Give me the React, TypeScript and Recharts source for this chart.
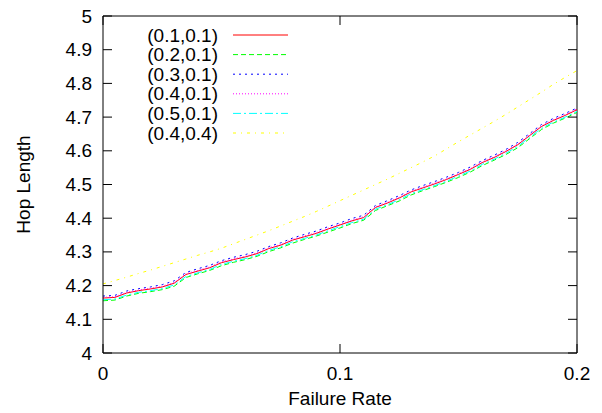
import { LineChart, Line, XAxis, YAxis, ReferenceLine, Legend } from 'recharts'

// failure rate (x axis)
const rates = [
  0, 0.005, 0.01, 0.015, 0.02, 0.025, 0.03, 0.035, 0.04, 0.045,
  0.05, 0.055, 0.06, 0.065, 0.07, 0.075, 0.08, 0.085, 0.09, 0.095,
  0.1, 0.105, 0.11, 0.115, 0.12, 0.125, 0.13, 0.135, 0.14, 0.145,
  0.15, 0.155, 0.16, 0.165, 0.17, 0.175, 0.18, 0.185, 0.19, 0.195, 0.2,
]

// hop length per parameter pair
const s01_01 = [
  4.163, 4.165, 4.178, 4.185, 4.190, 4.196, 4.207, 4.233, 4.243, 4.253,
  4.268, 4.277, 4.285, 4.295, 4.310, 4.320, 4.335, 4.345, 4.355, 4.368,
  4.380, 4.392, 4.402, 4.432, 4.445, 4.460, 4.478, 4.490, 4.502, 4.515,
  4.530, 4.545, 4.565, 4.580, 4.598, 4.618, 4.645, 4.672, 4.690, 4.705, 4.722,
]
const s02_01 = [
  4.155, 4.157, 4.169, 4.177, 4.182, 4.188, 4.198, 4.224, 4.235, 4.245,
  4.259, 4.269, 4.277, 4.287, 4.301, 4.312, 4.326, 4.337, 4.347, 4.359,
  4.371, 4.384, 4.394, 4.423, 4.437, 4.451, 4.469, 4.482, 4.494, 4.507,
  4.521, 4.537, 4.556, 4.572, 4.589, 4.609, 4.636, 4.663, 4.682, 4.697, 4.714,
]
const s03_01 = [
  4.169, 4.171, 4.184, 4.191, 4.196, 4.203, 4.214, 4.239, 4.250, 4.260,
  4.274, 4.284, 4.292, 4.302, 4.316, 4.327, 4.341, 4.352, 4.362, 4.375,
  4.386, 4.399, 4.409, 4.438, 4.452, 4.467, 4.484, 4.497, 4.509, 4.522,
  4.536, 4.552, 4.571, 4.587, 4.604, 4.625, 4.651, 4.678, 4.696, 4.711, 4.727,
]
const s04_01 = [
  4.165, 4.167, 4.180, 4.187, 4.192, 4.198, 4.209, 4.235, 4.245, 4.255,
  4.270, 4.279, 4.287, 4.297, 4.312, 4.322, 4.337, 4.347, 4.357, 4.370,
  4.382, 4.394, 4.404, 4.434, 4.447, 4.462, 4.480, 4.492, 4.504, 4.517,
  4.532, 4.547, 4.567, 4.582, 4.600, 4.620, 4.647, 4.674, 4.692, 4.707, 4.724,
]
const s05_01 = [
  4.158, 4.160, 4.172, 4.180, 4.185, 4.191, 4.202, 4.227, 4.238, 4.248,
  4.263, 4.272, 4.280, 4.290, 4.305, 4.315, 4.330, 4.340, 4.350, 4.363,
  4.375, 4.387, 4.397, 4.427, 4.440, 4.455, 4.473, 4.485, 4.497, 4.510,
  4.525, 4.540, 4.560, 4.575, 4.593, 4.613, 4.640, 4.667, 4.685, 4.700, 4.717,
]
const s04_04 = [
  4.205, 4.215, 4.225, 4.236, 4.246, 4.257, 4.268, 4.279, 4.290, 4.300,
  4.311, 4.324, 4.337, 4.350, 4.363, 4.377, 4.391, 4.405, 4.420, 4.436,
  4.452, 4.468, 4.484, 4.500, 4.516, 4.533, 4.550, 4.567, 4.585, 4.606,
  4.627, 4.647, 4.667, 4.687, 4.708, 4.730, 4.752, 4.774, 4.797, 4.818, 4.838,
]

const xTicks = [0, 0.1, 0.2]
const yTicks = [4, 4.1, 4.2, 4.3, 4.4, 4.5, 4.6, 4.7, 4.8, 4.9, 5]

const series = [
  { key: 'a', name: '(0.1,0.1)', values: s01_01, color: '#ff0000', dash: undefined },
  { key: 'b', name: '(0.2,0.1)', values: s02_01, color: '#00ff00', dash: '5 3' },
  { key: 'c', name: '(0.3,0.1)', values: s03_01, color: '#0000ff', dash: '2 4' },
  { key: 'd', name: '(0.4,0.1)', values: s04_01, color: '#ff00ff', dash: '1 2' },
  { key: 'e', name: '(0.5,0.1)', values: s05_01, color: '#00ffff', dash: '8 3 2 3' },
  { key: 'f', name: '(0.4,0.4)', values: s04_04, color: '#ffff00', dash: '3 5 1 5' },
]

const data = rates.map((rate, i) => {
  const row: any = { rate }
  series.forEach((s) => { row[s.key] = s.values[i] })
  return row
})

const W = 602
const H = 413
const PLOT_W = 474
const PLOT_H = 337
const TICK = 9
const FS = 19
const FONT = '"Liberation Sans", Arial, sans-serif'

const YTick = ({ x, y, payload }: any) => {
  const ax = x + 11
  return (
    <g>
      <line x1={ax} x2={ax + TICK} y1={y} y2={y} stroke="#000" />
      <line x1={ax + PLOT_W} x2={ax + PLOT_W - TICK} y1={y} y2={y} stroke="#000" />
      <text x={x} y={y} textAnchor="end" dominantBaseline="central" fontSize={FS} fontFamily={FONT} fill="#000">
        {String(payload.value)}
      </text>
    </g>
  )
}

const XTick = ({ x, y, payload }: any) => {
  const ay = y - 20
  return (
    <g>
      <line x1={x} x2={x} y1={ay} y2={ay - TICK} stroke="#000" />
      <line x1={x} x2={x} y1={ay - PLOT_H} y2={ay - PLOT_H + TICK} stroke="#000" />
      <text x={x} y={y} textAnchor="middle" dominantBaseline="central" fontSize={FS} fontFamily={FONT} fill="#000">
        {String(payload.value)}
      </text>
    </g>
  )
}

const LegendBox = () => (
  <svg width={300} height={145} style={{ display: 'block' }}>
    {series.map((s, i) => {
      const y = 35 + i * 19.6
      return (
        <g key={s.key}>
          <text x={218} y={y} textAnchor="end" dominantBaseline="central" fontSize={FS} fontFamily={FONT} fill="#000">
            {s.name}
          </text>
          <line x1={233} x2={288} y1={y} y2={y} stroke={s.color} strokeDasharray={s.dash} />
        </g>
      )
    })}
  </svg>
)

export default function App() {
  return (
    <div style={{ position: 'absolute', left: 0, top: 0, width: W, height: H, background: '#fff' }}>
      <LineChart width={W} height={H} data={data} margin={{ top: 16, right: 25, bottom: 0, left: 0 }}>
        <XAxis
          dataKey="rate"
          type="number"
          domain={[0, 0.2]}
          ticks={xTicks}
          tickLine={false}
          tickSize={0}
          tickMargin={20}
          height={60}
          axisLine={{ stroke: '#000' }}
          tick={<XTick />}
          label={{
            content: ({ viewBox }: any) => (
              <text x={viewBox.x + viewBox.width / 2} y={viewBox.y + 45} textAnchor="middle" dominantBaseline="central" fontSize={FS} fontFamily={FONT} fill="#000">
                Failure Rate
              </text>
            ),
          }}
        />
        <YAxis
          type="number"
          domain={[4, 5]}
          ticks={yTicks}
          width={103}
          tickLine={false}
          tickSize={0}
          tickMargin={11}
          axisLine={{ stroke: '#000' }}
          tick={<YTick />}
          label={{
            content: ({ viewBox }: any) => {
              const cx = viewBox.x + 23
              const cy = viewBox.y + viewBox.height / 2
              return (
                <text x={cx} y={cy} transform={`rotate(-90 ${cx} ${cy})`} textAnchor="middle" dominantBaseline="central" fontSize={FS} fontFamily={FONT} fill="#000">
                  Hop Length
                </text>
              )
            },
          }}
        />
        <ReferenceLine y={5} stroke="#000" ifOverflow="visible" />
        <ReferenceLine x={0.2} stroke="#000" ifOverflow="visible" />
        {series.map((s) => (
          <Line
            key={s.key}
            dataKey={s.key}
            name={s.name}
            type="linear"
            stroke={s.color}
            strokeWidth={1}
            strokeDasharray={s.dash}
            dot={false}
            activeDot={false}
            isAnimationActive={false}
          />
        ))}
        <Legend
          layout="vertical"
          align="center"
          verticalAlign="middle"
          content={<LegendBox />}
          wrapperStyle={{ top: 0, left: 0, width: 300, height: 145 }}
        />
      </LineChart>
    </div>
  )
}
